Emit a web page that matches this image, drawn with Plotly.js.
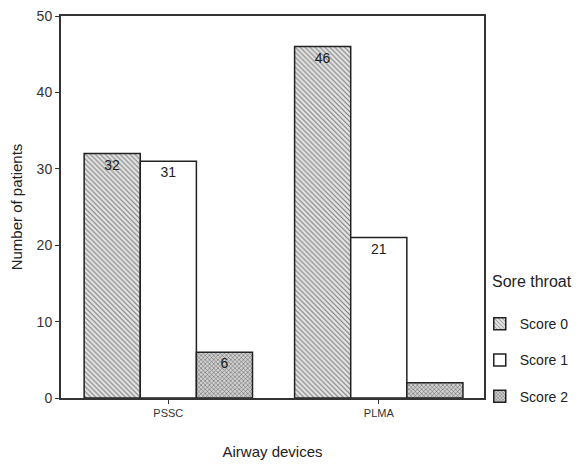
<!DOCTYPE html>
<html>
<head>
<meta charset="utf-8">
<script src="https://cdn.plot.ly/plotly-3.0.1.min.js"></script>
<style>html,body{margin:0;padding:0;background:#fff;}#chart{width:580px;height:464px;}</style>
</head>
<body>
<div id="chart"></div>
<script>
const categories = ["PSSC", "PLMA"];
const seriesNames = ["Score 0", "Score 1", "Score 2"];
const legendTitle = "Sore throat";
const score0 = [32, 46];
const score1 = [31, 21];
const score2 = [6, 2];
const labels0 = ["32", "46"];
const labels1 = ["31", "21"];
const labels2 = ["6", ""];
const yTicks = [0, 10, 20, 30, 40, 50];

const font = "Liberation Sans, Arial, sans-serif";
function mk(name, y, txt, marker, tf, grp) {
  return {
    type: "bar", name: name, x: categories, y: y, text: txt,
    textposition: "inside", insidetextanchor: "end", textangle: 0,
    insidetextfont: tf, legendgroup: grp,
    marker: marker, hoverinfo: "none", cliponaxis: false
  };
}
const data = [
  mk(seriesNames[0], score0, labels0, {
    color: "#d9d9d9",
    pattern: {shape: "\\", fgcolor: "#777", bgcolor: "#e6e6e6", size: 3.5, solidity: 0.3},
    line: {color: "#222", width: 1.5}
  }, {family: font, size: 14, color: "#1a1a1a"}, "g0"),
  mk(seriesNames[1], score1, labels1, {
    color: "#ffffff",
    line: {color: "#222", width: 1.5}
  }, {family: font, size: 14, color: "#222"}, "g1"),
  mk(seriesNames[2], score2, labels2, {
    color: "#b0b0b0",
    pattern: {shape: "x", fgcolor: "#555", bgcolor: "#d0d0d0", size: 3, solidity: 0.3},
    line: {color: "#222", width: 1.5}
  }, {family: font, size: 14, color: "#1a1a1a"}, "g2")
];

const layout = {
  width: 580, height: 464,
  margin: {l: 61, r: 96, t: 16, b: 66, autoexpand: false},
  paper_bgcolor: "#fff", plot_bgcolor: "#fff",
  barmode: "group", bargap: 0.2, bargroupgap: 0,
  font: {family: font, color: "#222"},
  showlegend: true,
  xaxis: {
    range: [-0.51, 1.5],
    showline: true, linecolor: "#333", linewidth: 2, mirror: true,
    ticks: "outside", ticklen: 4, tickcolor: "#333",
    tickfont: {family: font, size: 11, color: "#333"},
    showgrid: false, zeroline: false,
    title: {text: "Airway devices", font: {family: font, size: 15, color: "#222"}, standoff: 28}
  },
  yaxis: {
    range: [0, 50], tickvals: yTicks,
    showline: true, linecolor: "#333", linewidth: 2, mirror: true,
    ticks: "outside", ticklen: 4, tickcolor: "#333",
    tickfont: {family: font, size: 14, color: "#333"},
    showgrid: false, zeroline: false,
    title: {text: "Number of patients", font: {family: font, size: 15, color: "#222"}, standoff: 10}
  },
  legend: {
    x: 0.99, xanchor: "left", y: 0.235, yanchor: "top",
    font: {family: font, size: 14, color: "#222"},
    itemwidth: 30, tracegroupgap: 15, bgcolor: "rgba(0,0,0,0)"
  },
  annotations: [{
    text: legendTitle, xref: "paper", yref: "paper", x: 1.015, y: 0.304,
    xanchor: "left", yanchor: "middle", showarrow: false,
    font: {family: font, size: 16, color: "#222"}
  }]
};
Plotly.newPlot("chart", data, layout, {displayModeBar: false, staticPlot: true});
</script>
</body>
</html>
